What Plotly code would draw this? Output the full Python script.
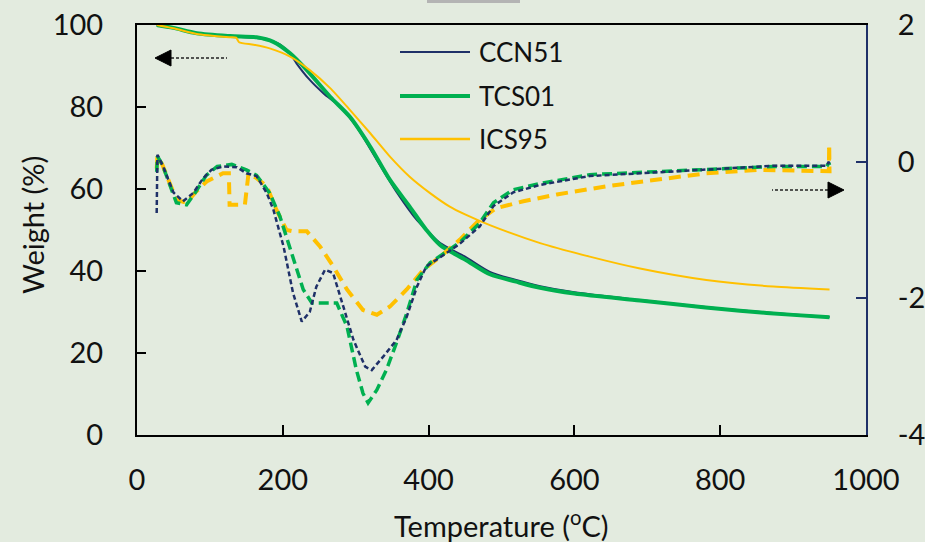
import plotly.graph_objects as go

# ---------------- data ----------------
# TG curves (weight %, left axis)
tg_ccn51_T = [27, 50, 82, 128, 164, 187, 196, 210, 219, 237, 256, 278, 301, 329, 356, 384, 400, 416, 450, 484, 520, 553, 600, 690, 780, 827, 900, 950]
tg_ccn51_W = [100, 99.3, 98.0, 97.2, 96.8, 96.0, 95.3, 93.0, 90.6, 86.6, 83.3, 80.1, 75.2, 67.1, 59.3, 52.4, 49.5, 46.8, 43.5, 39.8, 37.8, 36.3, 34.8, 32.9, 31.2, 30.4, 29.4, 28.8]

tg_tcs01_T = [27, 50, 82, 128, 164, 187, 210, 233, 265, 292, 320, 347, 374, 397, 416, 450, 484, 520, 553, 600, 690, 780, 827, 900, 950]
tg_tcs01_W = [100, 99.3, 98.0, 97.3, 97.0, 95.9, 93.1, 89.0, 82.5, 77.6, 70.3, 62.2, 55.7, 50.0, 46.3, 42.8, 39.2, 37.4, 35.9, 34.5, 32.8, 31.1, 30.3, 29.3, 28.7]

tg_ics95_T = [27, 50, 82, 128, 136, 140, 160, 182, 210, 237, 265, 292, 320, 347, 374, 402, 429, 450, 484, 553, 621, 690, 781, 873, 950]
tg_ics95_W = [100, 99.2, 97.8, 97.0, 96.9, 95.8, 95.2, 94.3, 92.3, 89.0, 84.6, 79.3, 73.6, 67.9, 63.0, 59.0, 55.7, 53.8, 51.2, 46.8, 43.5, 40.6, 37.8, 36.2, 35.5]

# DTG curves (right axis)
dtg_ccn51_T = [27, 28, 35, 50, 63, 77, 91, 102, 118, 137, 150, 164, 178, 187, 201, 214, 226, 237, 246, 258, 269, 283, 297, 313, 322, 338, 356, 370, 384, 397, 416, 443, 470, 489, 516, 553, 621, 690, 781, 873, 946, 949, 950]
dtg_ccn51_D = [-0.75, 0.10, -0.05, -0.45, -0.58, -0.46, -0.24, -0.12, -0.07, -0.08, -0.17, -0.21, -0.46, -0.70, -1.24, -1.92, -2.34, -2.20, -1.83, -1.58, -1.63, -2.12, -2.61, -3.00, -3.05, -2.85, -2.61, -2.27, -1.83, -1.53, -1.40, -1.20, -0.95, -0.65, -0.45, -0.34, -0.21, -0.17, -0.12, -0.06, -0.06, 0.0, -0.05]

dtg_tcs01_T = [27, 28, 35, 54, 68, 80, 95, 110, 130, 150, 164, 182, 196, 205, 219, 228, 240, 256, 274, 288, 301, 310, 317, 329, 342, 356, 370, 384, 402, 420, 443, 470, 489, 516, 553, 621, 690, 781, 873, 946, 949, 950]
dtg_tcs01_D = [-0.15, 0.08, -0.05, -0.60, -0.63, -0.45, -0.20, -0.07, -0.04, -0.12, -0.20, -0.46, -0.80, -1.09, -1.58, -1.87, -2.07, -2.07, -2.07, -2.41, -3.05, -3.39, -3.53, -3.34, -3.05, -2.65, -2.22, -1.73, -1.48, -1.35, -1.18, -0.90, -0.60, -0.41, -0.32, -0.19, -0.16, -0.11, -0.07, -0.07, -0.02, -0.05]

dtg_ics95_T = [27, 28, 35, 54, 68, 80, 95.5, 118, 126, 127, 148, 153, 164, 178, 191, 205, 214, 233, 251, 269, 288, 310, 329, 347, 370, 393, 416, 443, 470, 493, 530, 576, 644, 713, 781, 850, 946, 949, 949.5, 950]
dtg_ics95_D = [-0.10, 0.08, -0.05, -0.56, -0.60, -0.45, -0.29, -0.17, -0.17, -0.63, -0.63, -0.17, -0.24, -0.36, -0.70, -1.00, -1.02, -1.02, -1.24, -1.53, -1.87, -2.17, -2.24, -2.12, -1.87, -1.58, -1.39, -1.14, -0.85, -0.68, -0.58, -0.48, -0.36, -0.26, -0.17, -0.12, -0.14, -0.14, 0.25, -0.17]

series_names = ["CCN51", "TCS01", "ICS95"]
x_ticks = [0, 200, 400, 600, 800, 1000]
y_ticks = [0, 20, 40, 60, 80, 100]
y2_ticks = [-4, -2, 0, 2]
y2_ticktext = ["-4", "-2", "0", "2"]

# ---------------- style ----------------
NAVY = "#1f3068"
GREEN = "#00b050"
GOLD = "#ffc000"
BG = "#e3ebdf"
FONT = "Lato"
FS = 29
FS_LEG = 26

fig = go.Figure()

# DTG (dashed, right axis)
fig.add_trace(go.Scatter(x=dtg_ics95_T, y=dtg_ics95_D, yaxis="y2", mode="lines",
                         line=dict(color=GOLD, width=4, dash="12px,7px"), showlegend=False))
fig.add_trace(go.Scatter(x=dtg_tcs01_T, y=dtg_tcs01_D, yaxis="y2", mode="lines",
                         line=dict(color=GREEN, width=3.5, dash="10px,5px"), showlegend=False))
fig.add_trace(go.Scatter(x=dtg_ccn51_T, y=dtg_ccn51_D, yaxis="y2", mode="lines",
                         line=dict(color=NAVY, width=2.5, dash="5px,3px"), showlegend=False))

# TG (solid, left axis)
fig.add_trace(go.Scatter(x=tg_ccn51_T, y=tg_ccn51_W, mode="lines", name=series_names[0],
                         line=dict(color=NAVY, width=2, shape="spline", smoothing=0.8), showlegend=False))
fig.add_trace(go.Scatter(x=tg_tcs01_T, y=tg_tcs01_W, mode="lines", name=series_names[1],
                         line=dict(color=GREEN, width=4, shape="spline", smoothing=0.8), showlegend=False))
fig.add_trace(go.Scatter(x=tg_ics95_T, y=tg_ics95_W, mode="lines", name=series_names[2],
                         line=dict(color=GOLD, width=2, shape="spline", smoothing=0.6), showlegend=False))

L, R, T, B = 137, 59, 25, 107
W, H = 925, 542
PW, PH = W - L - R, H - T - B


def px2paper(px, py):
    return (px - L) / PW, (H - B - py) / PH


shapes = []
annotations = []

# manual legend
legend_items = [(series_names[0], NAVY, 2, 52), (series_names[1], GREEN, 4, 96), (series_names[2], GOLD, 2.5, 139)]
for name, col, wid, py in legend_items:
    x0, y0 = px2paper(400, py)
    x1, _ = px2paper(470, py)
    shapes.append(dict(type="line", xref="paper", yref="paper", x0=x0, x1=x1, y0=y0, y1=y0,
                       line=dict(color=col, width=wid)))
    tx, _ = px2paper(477, py)
    annotations.append(dict(xref="paper", yref="paper", x=tx, y=y0, text=name, showarrow=False,
                            xanchor="left", yanchor="middle", font=dict(family=FONT, size=FS_LEG, color="#111")))

# arrows (dashed shaft + filled head)
def arrow(tip_px, base_px, tail_px, py, half=8):
    tx, ty = px2paper(tip_px, py)
    bx, _ = px2paper(base_px, py)
    ex, _ = px2paper(tail_px, py)
    dh = half / PH
    shapes.append(dict(type="line", xref="paper", yref="paper", x0=bx, x1=ex, y0=ty, y1=ty,
                       line=dict(color="#222", width=1.3, dash="3px,2px")))
    shapes.append(dict(type="path", xref="paper", yref="paper",
                       path=f"M {tx} {ty} L {bx} {ty + dh} L {bx} {ty - dh} Z",
                       fillcolor="#000", line=dict(color="#000", width=1)))

arrow(155, 171, 227, 58)
arrow(844, 828, 772, 190)

# small grey box cut at the top
gx0, _ = px2paper(427, 0)
gx1, _ = px2paper(520, 0)
_, gy0 = px2paper(0, 3)
_, gy1 = px2paper(0, -2)
shapes.append(dict(type="rect", xref="paper", yref="paper", x0=gx0, x1=gx1, y0=gy0, y1=gy1,
                   fillcolor="#b4b4b4", line=dict(width=0)))

# axis titles
ax, ay = px2paper(32, 225)
annotations.append(dict(xref="paper", yref="paper", x=ax, y=ay, text="Weight (%)", textangle=-90,
                        showarrow=False, xanchor="center", yanchor="middle",
                        font=dict(family=FONT, size=FS, color="#111")))
tx_, ty_ = px2paper(501, 524)
annotations.append(dict(xref="paper", yref="paper", x=tx_, y=ty_, text="Temperature (<sup>o</sup>C)",
                        showarrow=False, xanchor="center", yanchor="middle",
                        font=dict(family=FONT, size=FS, color="#111")))

fig.update_layout(
    width=W, height=H,
    margin=dict(l=L, r=R, t=T, b=B, autoexpand=False),
    paper_bgcolor=BG, plot_bgcolor=BG,
    font=dict(family=FONT, size=FS, color="#111"),
    shapes=shapes, annotations=annotations,
    xaxis=dict(range=[0, 1000], tickvals=x_ticks, showgrid=False, zeroline=False,
               showline=True, linecolor="#000", linewidth=2, mirror=True,
               ticks="inside", ticklen=10, tickwidth=2, tickcolor="#000",
               ticklabelstandoff=18, tickfont=dict(family=FONT, size=FS, color="#111")),
    yaxis=dict(range=[0, 100], tickvals=y_ticks, showgrid=False, zeroline=False,
               showline=True, linecolor="#000", linewidth=2,
               ticks="inside", ticklen=9, tickwidth=2, tickcolor="#000",
               ticklabelstandoff=26, tickfont=dict(family=FONT, size=FS, color="#111")),
    yaxis2=dict(range=[-4, 2], tickvals=y2_ticks, ticktext=y2_ticktext, overlaying="y", side="right",
                showgrid=False, zeroline=False,
                showline=True, linecolor=NAVY, linewidth=2,
                ticks="inside", ticklen=10, tickwidth=2, tickcolor=NAVY,
                ticklabelstandoff=24, tickfont=dict(family=FONT, size=FS, color="#111")),
    showlegend=False,
)

fig.write_html("out.html")
